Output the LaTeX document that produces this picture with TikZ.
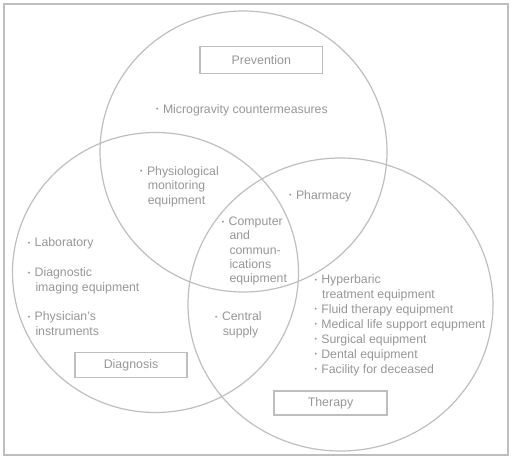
\documentclass[tikz,border=0pt]{standalone}
\usepackage{fontspec}
\setmainfont{Liberation Sans}
\definecolor{txtgray}{RGB}{150,150,150}
\definecolor{linegray}{RGB}{190,190,190}
\newcommand\bul{\makebox[6.8pt][l]{\raisebox{1.6pt}{\fontsize{7}{7}\selectfont\textbullet}}}
\newcommand\cont{\hspace*{7.6pt}}
\tikzset{
  ring/.style={draw=linegray, line width=1.2pt},
  frame/.style={draw=linegray, line width=1.6pt},
  catbox/.style={draw=linegray, line width=1.4pt, text=txtgray, inner sep=0pt,
    font=\fontsize{12.4}{14.5}\selectfont},
  item/.style={text=txtgray, anchor=north west, inner sep=0pt, align=left,
    font=\fontsize{12.3}{14.5}\selectfont},
  titem/.style={item, font=\fontsize{12.3}{14.9}\selectfont}
}
\begin{document}
\begin{tikzpicture}[x=1pt,y=-1pt]
\useasboundingbox (0,0) rectangle (512,460);
\draw[frame] (4,4) rectangle (508,455);
% circles
\draw[ring] (243.5,151.5) ellipse [x radius=143.5pt, y radius=140.5pt];
\draw[ring] (155.5,272.5) ellipse [x radius=143pt, y radius=140pt];
\draw[ring] (340.5,304.5) ellipse [x radius=152.5pt, y radius=146.5pt];
% category boxes
\node[catbox, minimum width=122.7pt, minimum height=26.6pt] (prev) at (261.3,60) {Prevention};
\node[catbox, minimum width=112pt, minimum height=25pt] (diag) at (131,365.2) {Diagnosis};
\node[catbox, minimum width=113pt, minimum height=24pt] (ther) at (330.5,403) {Therapy};
% items (node top = baseline - 10.2)
\node[item] (micro) at (156,103.1) {\strut\bul Microgravity countermeasures};
\node[item] (phys) at (140,164.8) {\strut\bul Physiological\\\cont monitoring\\\cont equipment};
\node[item] (pharm) at (289,188.8) {\strut\bul Pharmacy};
\node[item, font=\fontsize{12.3}{14.2}\selectfont] (comp) at (221.7,215.6) {\strut\bul Computer\\\cont and\\\cont commun-\\\cont ications\\\cont equipment};
\node[item] (lab) at (27.7,236.5) {\strut\bul Laboratory};
\node[item] (dimg) at (27.7,266.5) {\strut\bul Diagnostic\\\cont imaging equipment};
\node[item] (physn) at (27.7,310.5) {\strut\bul Physician's\\\cont instruments};
\node[item] (cent) at (215,310.5) {\strut\bul Central\\\cont supply};
\node[titem] (ther1) at (314.3,273.1) {\strut\bul Hyperbaric\\\cont treatment equipment\\\bul Fluid therapy equipment\\\bul Medical life support equpment\\\bul Surgical equipment\\\bul Dental equipment\\\bul Facility for deceased};
\end{tikzpicture}
\end{document}
